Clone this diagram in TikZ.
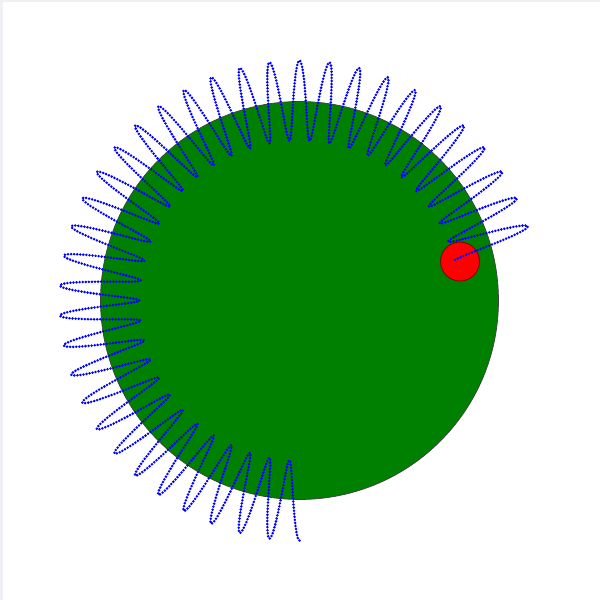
\documentclass[tikz,border=0pt]{standalone}
\usepackage{tikz}
\usepackage{xcolor}
\usetikzlibrary{calc}
\definecolor{planeta}{RGB}{0,128,0}
\definecolor{bola}{RGB}{255,0,0}
\definecolor{traza}{RGB}{0,0,255}
\definecolor{marco}{RGB}{240,240,244}

\begin{document}
\begin{tikzpicture}[
    x=0.02cm,
    y=-0.02cm,
    trayectoria/.style={traza, line width=1.6pt, line cap=round, dash pattern=on 0pt off 1.75pt}
]

\useasboundingbox (0,0) rectangle (600,600);
\fill[white] (0,0) rectangle (600,600);

% Marco sutil
\fill[marco] (0,0) rectangle (600,2);
\fill[marco] (0,0) rectangle (3,600);

\coordinate (centro) at (299.5,300.5);
\coordinate (pos) at (460,261.5);

% Planeta
\fill[planeta, draw=black!75, line width=0.4pt] (centro) circle [radius=199];

% Bola
\fill[bola, draw=bola!50!black, line width=0.5pt] (pos) circle [radius=19.5];

% Trayectoria
\draw[trayectoria] plot[samples=1800, domain=0:255.6, variable=\t]
    ({299.5 + (200 + 40*cos(50*\t))*cos(270-\t)}, {300.5 - (200 + 40*cos(50*\t))*sin(270-\t)});

\end{tikzpicture}
\end{document}
